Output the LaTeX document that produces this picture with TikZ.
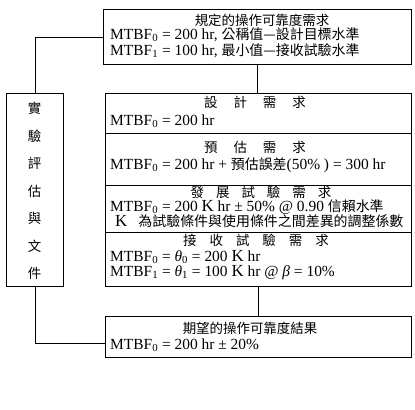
\documentclass[tikz,border=0pt]{standalone}
\usepackage{fontspec}
\setmainfont{Liberation Serif}
\newfontfamily\wideserif{Liberation Serif}
\newfontfamily\cjk{Noto Sans CJK TC}
\newcommand\zh[1]{{\fontsize{14}{14}\cjk #1}}
\newcommand\lowidx[1]{\textsubscript{#1}}
\newcommand\bigK{{\fontsize{17}{17}\wideserif K}}
\newcommand\gap{\hspace{16bp}}
\begin{document}
\begin{tikzpicture}[x=1bp,y=-1bp,
  box/.style={draw, line width=0.9bp, inner sep=0pt, anchor=north west},
  txt/.style={anchor=base west, inner sep=0pt, font=\fontsize{15.5}{15.5}\selectfont},
  ttl/.style={anchor=base, inner sep=0pt, font=\fontsize{13.5}{13.5}\cjk},
  link/.style={draw, line width=0.9bp}]
\useasboundingbox (0,0) rectangle (415,410);
% boxes
\node[box, minimum width=308bp, minimum height=55bp] (top) at (103,9) {};
\node[box, minimum width=57bp, minimum height=193bp] (left) at (6,93) {};
\node[box, minimum width=306bp, minimum height=40bp] (b1) at (105,93) {};
\node[box, minimum width=306bp, minimum height=52bp] (b2) at (105,133) {};
\node[box, minimum width=306bp, minimum height=47bp] (b3) at (105,185) {};
\node[box, minimum width=306bp, minimum height=54bp] (b4) at (105,232) {};
\node[box, minimum width=306bp, minimum height=41bp] (bot) at (105,316) {};
% connectors
\path[link] (top.west) -| (left.north);
\path[link] (top.south) -- (top.south |- b1.north);
\path[link] (b4.south) -- (b4.south |- bot.north);
\coordinate (botin) at ([yshift=-6.5bp]bot.west);
\path[link] (left.south) |- (botin);
% top box text
\node[ttl] (t0) at (262,25.5) {規定的操作可靠度需求};
\node[txt] (t1) at (110,39.5) {MTBF\lowidx{0} = 200 hr, \zh{公稱值—設計目標水準}};
\node[txt] (t2) at (110,55) {MTBF\lowidx{1} = 100 hr, \zh{最小值—接收試驗水準}};
% left vertical text
\node[anchor=north, inner sep=0pt, align=center, font=\fontsize{13.5}{27.6}\cjk] (vt) at (34.5,102) {實\\驗\\評\\估\\與\\文\\件};
% box 1
\node[ttl] (h1) at (255,107) {設\gap 計\gap 需\gap 求};
\node[txt] (l1) at (110,125) {MTBF\lowidx{0} = 200 hr};
% box 2
\node[ttl] (h2) at (255,152) {預\gap 估\gap 需\gap 求};
\node[txt] (l2) at (110,169) {MTBF\lowidx{0} = 200 hr + \zh{預估誤差}(50\% ) = 300 hr};
% box 3
\node[ttl] (h3) at (261,197.5) {發\hspace{12bp}展\hspace{12bp}試\hspace{12bp}驗\hspace{12bp}需\hspace{12bp}求};
\node[txt] (l3a) at (110,211) {MTBF\lowidx{0} = 200 \bigK\ hr ± 50\% @ 0.90 \zh{信賴水準}};
\node[txt] (l3b) at (115,226.5) {\bigK\hspace{11bp}\zh{為試驗條件與使用條件之間差異的調整係數}};
% box 4
\node[ttl] (h4) at (256,245) {接\hspace{13bp}收\hspace{13bp}試\hspace{13bp}驗\hspace{13bp}需\hspace{13bp}求};
\node[txt] (l4a) at (110,261) {MTBF\lowidx{0} = \textit{θ}\lowidx{0} = 200 \bigK\ hr};
\node[txt] (l4b) at (110,276.5) {MTBF\lowidx{1} = \textit{θ}\lowidx{1} = 100 \bigK\ hr @ \textit{β} = 10\%};
% bottom box
\node[ttl] (h5) at (250,333) {期望的操作可靠度結果};
\node[txt] (l5) at (110,349) {MTBF\lowidx{0} = 200 hr ± 20\%};
\end{tikzpicture}
\end{document}
